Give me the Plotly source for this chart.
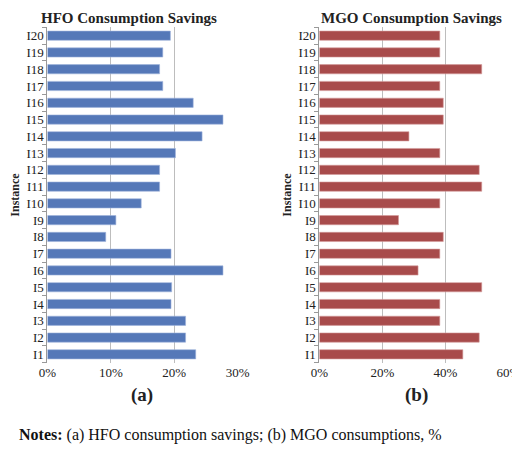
import plotly.graph_objects as go

instances = [f"I{i}" for i in range(1, 21)]
hfo = [23.4, 21.8, 21.8, 19.5, 19.6, 27.7, 19.5, 9.2, 10.8, 14.8,
       17.7, 17.7, 20.2, 24.4, 27.7, 23.0, 18.2, 17.7, 18.2, 19.4]
mgo = [45.5, 50.7, 38.2, 38.2, 51.5, 31.3, 38.2, 39.3, 25.1, 38.2,
       51.5, 50.7, 38.2, 28.4, 39.3, 39.3, 38.2, 51.5, 38.2, 38.2]

F = "Liberation Serif"
fig = go.Figure()
fig.add_trace(go.Bar(y=instances, x=[v/100 for v in hfo], orientation="h",
                     marker=dict(color="#5578b8", line=dict(color="#9fb3dc", width=0.6)),
                     width=0.55, xaxis="x", yaxis="y", showlegend=False))
fig.add_trace(go.Bar(y=instances, x=[v/100 for v in mgo], orientation="h",
                     marker=dict(color="#a84b4b", line=dict(color="#d49a9a", width=0.6)),
                     width=0.55, xaxis="x2", yaxis="y2", showlegend=False))

ax = dict(showgrid=True, gridcolor="#bdbdbd", gridwidth=1, tickformat=".0%",
          zeroline=False, showline=False, ticks="", tickfont=dict(family=F, size=13, color="#222"))
ay = dict(showline=True, linecolor="#999", ticks="outside", ticklen=4, tickcolor="#999",
          range=[-0.5, 19.5], tickson="boundaries", showgrid=False,
          tickfont=dict(family=F, size=13, color="#222"),
          title=dict(text="<b>Instance</b>", font=dict(family=F, size=12, color="#222"), standoff=4))
fig.update_layout(
    width=520, height=449, margin=dict(l=0, r=0, t=0, b=0),
    paper_bgcolor="white", plot_bgcolor="white",
    xaxis=dict(ax, domain=[0.061, 0.442], range=[0, 0.3], dtick=0.1, anchor="y"),
    yaxis=dict(ay, domain=[0.21, 0.957], anchor="x"),
    xaxis2=dict(ax, domain=[0.606, 0.985], range=[0, 0.6], dtick=0.2, anchor="y2"),
    yaxis2=dict(ay, domain=[0.21, 0.957], anchor="x2"),
    annotations=[
        dict(text="<b>HFO Consumption Savings</b>", x=0.225, y=1.0, xref="paper", yref="paper",
             xanchor="center", yanchor="top", showarrow=False, font=dict(family=F, size=15, color="#222")),
        dict(text="<b>MGO Consumption Savings</b>", x=0.79, y=1.0, xref="paper", yref="paper",
             xanchor="center", yanchor="top", showarrow=False, font=dict(family=F, size=15, color="#222")),
        dict(text="<b>(a)</b>", x=0.25, y=0.11, xref="paper", yref="paper",
             xanchor="center", showarrow=False, font=dict(family=F, size=19, color="#222")),
        dict(text="<b>(b)</b>", x=0.80, y=0.11, xref="paper", yref="paper",
             xanchor="center", showarrow=False, font=dict(family=F, size=19, color="#222")),
        dict(text="<b>Notes:</b> (a) HFO consumption savings; (b) MGO consumptions, %",
             x=0.0, y=0.025, xref="paper", yref="paper", xanchor="left", showarrow=False,
             font=dict(family=F, size=16, color="#111")),
    ],
)
fig.write_html("out.html")
